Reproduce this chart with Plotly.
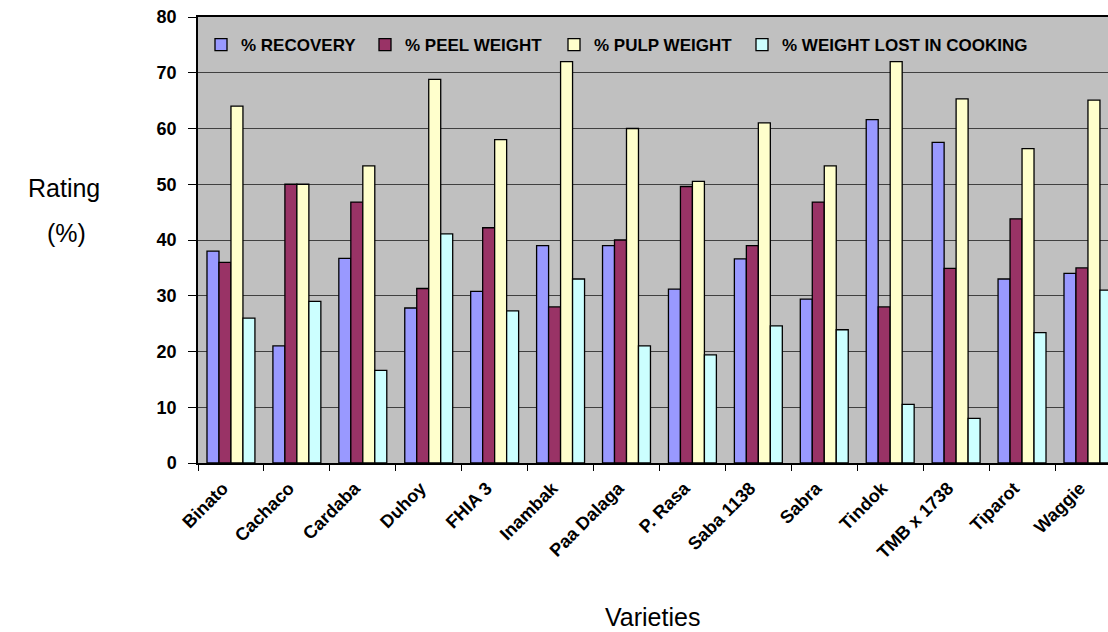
import plotly.graph_objects as go

# Banana varieties and the four measured properties (%)
varieties = ["Binato", "Cachaco", "Cardaba", "Duhoy", "FHIA 3", "Inambak", "Paa Dalaga",
             "P. Rasa", "Saba 1138", "Sabra", "Tindok", "TMB x 1738", "Tiparot", "Waggie"]
recovery = [38, 21, 36.7, 27.8, 30.8, 39, 39, 31.2, 36.6, 29.4, 61.6, 57.5, 33, 34]
peel_weight = [36, 50, 46.8, 31.3, 42.2, 28, 40, 49.6, 39, 46.8, 28, 34.9, 43.8, 35]
pulp_weight = [64, 50, 53.3, 68.8, 58, 72, 60, 50.5, 61, 53.3, 72, 65.3, 56.4, 65.1]
weight_lost_cooking = [26, 29, 16.6, 41.1, 27.3, 33, 21, 19.4, 24.6, 23.9, 10.5, 8, 23.4, 31]

series_names = ["% RECOVERY", "% PEEL WEIGHT", "% PULP WEIGHT", "% WEIGHT LOST IN COOKING"]
series_values = [recovery, peel_weight, pulp_weight, weight_lost_cooking]
series_colors = ["#9999FF", "#993366", "#FFFFCC", "#CCFFFF"]
y_ticks = [0, 10, 20, 30, 40, 50, 60, 70, 80]

FONT = "Liberation Sans, Arial, sans-serif"
W, H = 1108, 632
L, R, T, B = 198, 0, 17, 169
plot_w = W - L - R
plot_h = H - T - B


def px_x(px):
    return (px - L) / plot_w


def px_y(py):
    return 1 - (py - T) / plot_h


fig = go.Figure()
legend_names = ["legend", "legend2", "legend3", "legend4"]
for name, vals, color, lg in zip(series_names, series_values, series_colors, legend_names):
    fig.add_trace(go.Bar(
        x=varieties, y=vals, name=name, legend=lg,
        marker=dict(color=color, line=dict(color="black", width=1.3)),
    ))

# one legend box per series so each entry sits where it belongs along the top
legend_text_left = [241, 405, 594, 782]
legend_layouts = {}
for lg, px in zip(legend_names, legend_text_left):
    legend_layouts[lg] = dict(
        x=px_x(px - 40), xanchor="left",
        y=px_y(45), yanchor="middle",
        bgcolor="rgba(0,0,0,0)", borderwidth=0,
        font=dict(family=FONT, size=17, color="black", weight="bold"),
        orientation="h", itemclick=False, itemdoubleclick=False,
    )

fig.update_layout(
    width=W, height=H,
    margin=dict(l=L, r=R, t=T, b=B, pad=0),
    paper_bgcolor="white", plot_bgcolor="#C0C0C0",
    barmode="group", bargap=1.5 / 5.5, bargroupgap=0,
    showlegend=True,
    **legend_layouts,
)

fig.update_xaxes(
    type="category", range=[-0.5, 13.304],
    tickson="boundaries", ticks="outside", ticklen=6, tickcolor="black", tickwidth=1,
    tickangle=-45, ticklabelshift=-8, ticklabelstandoff=6,
    tickfont=dict(family=FONT, size=18, color="black", weight="bold"),
    showline=True, linecolor="black", linewidth=1.5, mirror=True,
    showgrid=False,
)
fig.update_yaxes(
    range=[0, 80], tickvals=y_ticks,
    ticks="outside", ticklen=8, tickcolor="black", tickwidth=1,
    tickfont=dict(family=FONT, size=18, color="black", weight="bold"),
    ticklabelstandoff=8,
    showline=True, linecolor="black", linewidth=1.5,
    showgrid=True, gridcolor="#404040", gridwidth=1,
    zeroline=False,
)

axis_title_font = dict(family=FONT, size=25, color="black")
fig.add_annotation(
    text="Rating", xref="paper", yref="paper", x=px_x(64), y=px_y(188),
    showarrow=False, xanchor="center", yanchor="middle", font=axis_title_font,
)
fig.add_annotation(
    text="(%)", xref="paper", yref="paper", x=px_x(66), y=px_y(233),
    showarrow=False, xanchor="center", yanchor="middle", font=axis_title_font,
)
fig.add_annotation(
    text="Varieties", xref="paper", yref="paper", x=px_x(652), y=px_y(617),
    showarrow=False, xanchor="center", yanchor="middle", font=axis_title_font,
)

fig.write_html("out.html")
